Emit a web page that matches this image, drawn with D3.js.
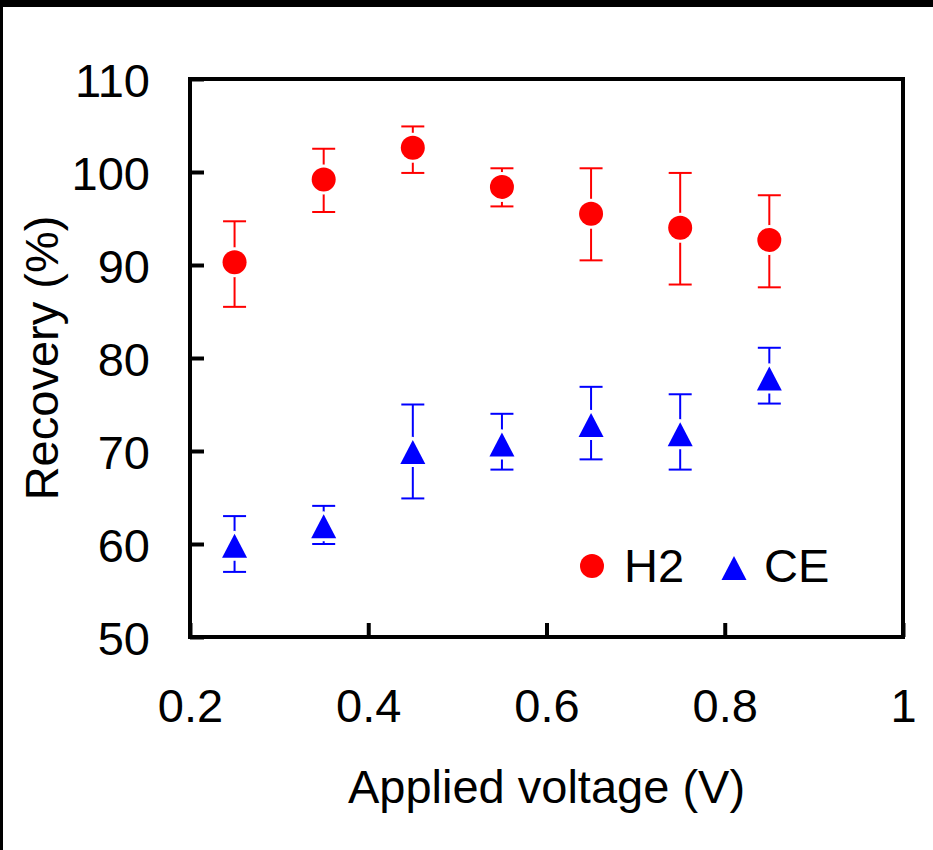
<!DOCTYPE html>
<html>
<head>
<meta charset="utf-8">
<script src="https://cdn.jsdelivr.net/npm/d3@7"></script>
<style>
  body { margin: 0; background: #fff; }
  text { font-family: "Liberation Sans", Arial, sans-serif; }
</style>
</head>
<body>
<svg id="chart" width="933" height="850"></svg>
<script>
// data
const voltage = [0.25, 0.35, 0.45, 0.55, 0.65, 0.75, 0.85];
const h2   = [90.3, 99.2, 102.6, 98.4, 95.5, 94.0, 92.7];
const h2Hi = [94.7, 102.5, 104.9, 100.4, 100.4, 99.9, 97.5];
const h2Lo = [85.5, 95.7, 99.9, 96.3, 90.5, 87.9, 87.6];
const ce   = [59.8, 61.9, 69.9, 70.7, 72.8, 71.8, 77.8];
const ceHi = [63.0, 64.1, 75.0, 74.0, 76.9, 76.1, 81.1];
const ceLo = [57.0, 60.0, 64.9, 68.0, 69.1, 68.0, 75.1];
const xTicks = [0.2, 0.4, 0.6, 0.8, 1];
const yTicks = [50, 60, 70, 80, 90, 100, 110];

const svg = d3.select('#chart');
const fontSize = 47;
const plotL = 190, plotR = 903, plotT = 79, plotB = 637;

// black frame edges of the original picture
svg.append('rect').attr('x', 0).attr('y', 0).attr('width', 933).attr('height', 7).attr('fill', 'black');
svg.append('rect').attr('x', 0).attr('y', 0).attr('width', 3).attr('height', 850).attr('fill', 'black');

const x = d3.scaleLinear().domain([0.2, 1]).range([plotL, plotR]);
const y = d3.scaleLinear().domain([50, 110]).range([plotB, plotT]);

const xAxis = svg.append('g').attr('transform', 'translate(0,' + plotB + ')')
  .call(d3.axisBottom(x).tickValues(xTicks).tickFormat(d => String(d)).tickSizeInner(-14).tickSizeOuter(0).tickPadding(52));
const yAxis = svg.append('g').attr('transform', 'translate(' + plotL + ',0)')
  .call(d3.axisLeft(y).tickValues(yTicks).tickFormat(d => String(d)).tickSizeInner(-14).tickSizeOuter(0).tickPadding(40));

[xAxis, yAxis].forEach(function(ax) {
  ax.select('.domain').remove();
  ax.selectAll('.tick line').attr('stroke', 'black').attr('stroke-width', 4);
  ax.selectAll('.tick text').attr('fill', 'black').style('font-size', fontSize + 'px')
    .style('font-family', '"Liberation Sans", Arial, sans-serif');
});
yAxis.selectAll('.tick text').attr('dy', '0.37em');

svg.append('rect').attr('x', plotL).attr('y', plotT).attr('width', plotR - plotL).attr('height', plotB - plotT)
  .attr('fill', 'none').attr('stroke', 'black').attr('stroke-width', 4);

// axis titles
svg.append('text').text('Applied voltage (V)').attr('x', (plotL + plotR) / 2).attr('y', 803)
  .attr('text-anchor', 'middle').style('font-size', fontSize + 'px');
svg.append('text').text('Recovery (%)')
  .attr('transform', 'translate(58,' + ((plotT + plotB) / 2) + ') rotate(-90)')
  .attr('text-anchor', 'middle').style('font-size', fontSize + 'px');

const capW = 23;
function triPath(cx, cy) {
  const w = 25, h = 24;
  return 'M' + cx + ',' + (cy - h / 2) + 'L' + (cx + w / 2) + ',' + (cy + h / 2) + 'L' + (cx - w / 2) + ',' + (cy + h / 2) + 'Z';
}

function drawSeries(vals, hi, lo, color, shape) {
  const g = svg.append('g');
  const rows = voltage.map((v, i) => ({ v: v, m: vals[i], hi: hi[i], lo: lo[i] }));
  g.selectAll('line.stem').data(rows).enter().append('line')
    .attr('x1', d => x(d.v)).attr('x2', d => x(d.v)).attr('y1', d => y(d.hi)).attr('y2', d => y(d.lo))
    .attr('stroke', color).attr('stroke-width', 2);
  g.selectAll('line.capHi').data(rows).enter().append('line')
    .attr('x1', d => x(d.v) - capW / 2).attr('x2', d => x(d.v) + capW / 2).attr('y1', d => y(d.hi)).attr('y2', d => y(d.hi))
    .attr('stroke', color).attr('stroke-width', 2);
  g.selectAll('line.capLo').data(rows).enter().append('line')
    .attr('x1', d => x(d.v) - capW / 2).attr('x2', d => x(d.v) + capW / 2).attr('y1', d => y(d.lo)).attr('y2', d => y(d.lo))
    .attr('stroke', color).attr('stroke-width', 2);
  if (shape === 'circle') {
    g.selectAll('circle').data(rows).enter().append('circle')
      .attr('cx', d => x(d.v)).attr('cy', d => y(d.m)).attr('r', 12)
      .attr('fill', color).attr('stroke', 'white').attr('stroke-width', 6).style('paint-order', 'stroke');
  } else {
    g.selectAll('path').data(rows).enter().append('path')
      .attr('d', d => triPath(x(d.v), y(d.m)))
      .attr('fill', color).attr('stroke', 'white').attr('stroke-width', 6).style('paint-order', 'stroke')
      .attr('stroke-linejoin', 'round');
  }
}

drawSeries(h2, h2Hi, h2Lo, '#ff0000', 'circle');
drawSeries(ce, ceHi, ceLo, '#0000ff', 'triangle');

// legend
const leg = svg.append('g');
leg.append('circle').attr('cx', 592).attr('cy', 566).attr('r', 12).attr('fill', '#ff0000');
leg.append('text').text('H2').attr('x', 624).attr('y', 582).style('font-size', fontSize + 'px');
leg.append('path').attr('d', triPath(734, 568)).attr('fill', '#0000ff');
leg.append('text').text('CE').attr('x', 764).attr('y', 582).style('font-size', fontSize + 'px');
</script>
</body>
</html>
